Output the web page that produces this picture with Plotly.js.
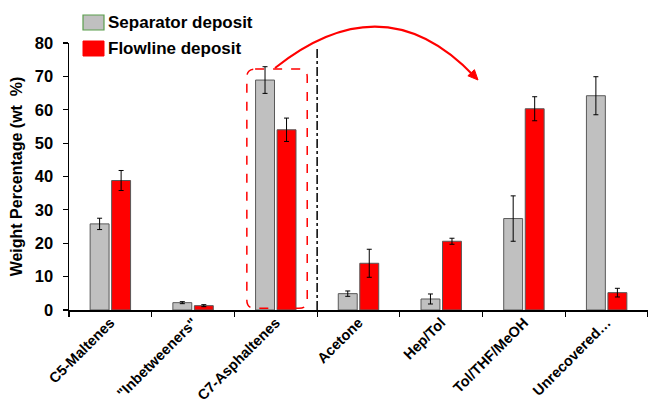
<!DOCTYPE html>
<html>
<head>
<meta charset="utf-8">
<script src="https://cdn.plot.ly/plotly-3.0.1.min.js"></script>
<style>html,body{margin:0;padding:0;background:#fff;}#chart{width:648px;height:402px;}</style>
</head>
<body>
<div id="chart"></div>
<script>
// ---- data ----
var categories = ['C5-Maltenes', '"Inbetweeners"', 'C7-Asphaltenes', 'Acetone', 'Hep/Tol', 'Tol/THF/MeOH', 'Unrecovered…'];
var seriesNames = ['Separator deposit', 'Flowline deposit'];
var separatorValues = [25.8, 2.2, 68.9, 4.9, 3.3, 27.4, 64.2];
var separatorErrors = [1.7, 0.3, 4.0, 0.8, 1.5, 6.8, 5.7];
var flowlineValues = [38.8, 1.3, 54.0, 14.0, 20.6, 60.3, 5.2];
var flowlineErrors = [3.0, 0.3, 3.5, 4.2, 0.9, 3.6, 1.3];
var yTickValues = [0, 10, 20, 30, 40, 50, 60, 70, 80];

// ---- styling / layout ----
var FONT = 'Liberation Sans, Arial, sans-serif';
var W = 648, H = 402, ML = 69, MR = 0, MT = 43, MB = 92;
var plotW = W - ML - MR, plotH = H - MT - MB;
// pixel -> paper helpers (for decorations outside the plot area)
function px(x) { return (x - ML) / plotW; }
function py(y) { return (H - MB - y) / plotH; }

var traces = [
  {
    type: 'bar', name: seriesNames[0], x: categories, y: separatorValues,
    marker: {color: '#C0C0C0', line: {color: '#595959', width: 1}},
    error_y: {type: 'data', array: separatorErrors, visible: true, color: '#000', thickness: 1, width: 2.5},
    showlegend: false, hoverinfo: 'skip'
  },
  {
    type: 'bar', name: seriesNames[1], x: categories, y: flowlineValues,
    marker: {color: '#FF0000', line: {color: '#595959', width: 1}},
    error_y: {type: 'data', array: flowlineErrors, visible: true, color: '#000', thickness: 1, width: 2.5},
    showlegend: false, hoverinfo: 'skip'
  }
];

// rounded dashed box around C7-Asphaltenes (data coordinates)
var bx0 = 1.65, bx1 = 2.38, by0 = 0.5, by1 = 72.2, rx = 0.1, ry = 2.4;
var boxPath = 'M' + (bx0 + rx) + ',' + by1 + ' L' + (bx1 - rx) + ',' + by1 +
  ' Q' + bx1 + ',' + by1 + ' ' + bx1 + ',' + (by1 - ry) +
  ' L' + bx1 + ',' + (by0 + ry) + ' Q' + bx1 + ',' + by0 + ' ' + (bx1 - rx) + ',' + by0 +
  ' L' + (bx0 + rx) + ',' + by0 + ' Q' + bx0 + ',' + by0 + ' ' + bx0 + ',' + (by0 + ry) +
  ' L' + bx0 + ',' + (by1 - ry) + ' Q' + bx0 + ',' + by1 + ' ' + (bx0 + rx) + ',' + by1 + ' Z';

// curved arrow (pixel positions converted to paper)
var a0 = [275, 68], ac = [384.5, -19], a1 = [475, 77];
var curvePath = 'M' + px(a0[0]) + ',' + py(a0[1]) + ' Q' + px(ac[0]) + ',' + py(ac[1]) + ' ' + px(a1[0]) + ',' + py(a1[1]);
var tip = [478, 80];
var dx = a1[0] - ac[0], dy = a1[1] - ac[1], dl = Math.sqrt(dx * dx + dy * dy);
dx /= dl; dy /= dl;
var hl = 10, hw = 4.5;
var bc = [tip[0] - hl * dx, tip[1] - hl * dy];
var c1 = [bc[0] - hw * dy, bc[1] + hw * dx], c2 = [bc[0] + hw * dy, bc[1] - hw * dx];
var headPath = 'M' + px(tip[0]) + ',' + py(tip[1]) + ' L' + px(c1[0]) + ',' + py(c1[1]) + ' L' + px(c2[0]) + ',' + py(c2[1]) + ' Z';

var shapes = [
  {type: 'line', xref: 'x', yref: 'y', x0: 2.5, x1: 2.5, y0: 0, y1: 78.9, line: {color: '#000', width: 1.5, dash: 'dashdot'}},
  {type: 'path', xref: 'x', yref: 'y', path: boxPath, line: {color: '#FF0000', width: 1.5, dash: 'dash'}},
  {type: 'path', xref: 'paper', yref: 'paper', path: curvePath, line: {color: '#FF0000', width: 2}},
  {type: 'path', xref: 'paper', yref: 'paper', path: headPath, fillcolor: '#FF0000', line: {color: '#FF0000', width: 1}},
  // custom legend swatches
  {type: 'rect', xref: 'paper', yref: 'paper', x0: px(83), x1: px(104), y0: py(30), y1: py(15), fillcolor: '#C0C0C0', line: {color: '#5B9E4D', width: 1.2}},
  {type: 'rect', xref: 'paper', yref: 'paper', x0: px(83), x1: px(104), y0: py(56), y1: py(41), fillcolor: '#FF0000', line: {color: '#FF0000', width: 1}}
];

var annotations = [
  {xref: 'paper', yref: 'paper', x: px(106), y: py(22.5), xanchor: 'left', yanchor: 'middle', showarrow: false,
   text: seriesNames[0], font: {family: FONT, size: 17, color: '#000', weight: 'bold'}},
  {xref: 'paper', yref: 'paper', x: px(106), y: py(48.5), xanchor: 'left', yanchor: 'middle', showarrow: false,
   text: seriesNames[1], font: {family: FONT, size: 17, color: '#000', weight: 'bold'}}
];

var layout = {
  width: W, height: H,
  margin: {l: ML, r: MR, t: MT, b: MB, pad: 0},
  paper_bgcolor: '#fff', plot_bgcolor: '#fff',
  barmode: 'group', bargap: 0.48, bargroupgap: 0.12,
  font: {family: FONT, color: '#000'},
  xaxis: {
    type: 'category', range: [-0.5, 6.5], tickson: 'boundaries',
    ticks: 'outside', ticklen: 5, tickwidth: 1.2, tickcolor: '#000',
    showline: true, linecolor: '#000', linewidth: 1.5,
    showgrid: false, zeroline: false, tickangle: -45, automargin: false,
    ticklabelstandoff: -3,
    tickfont: {family: FONT, size: 14.5, color: '#000', weight: 'bold'}
  },
  yaxis: {
    range: [0, 80], tickvals: yTickValues, ticks: 'outside', ticklen: 5, tickwidth: 1.2, tickcolor: '#000',
    showline: true, linecolor: '#000', linewidth: 1.5, showgrid: false, zeroline: false, automargin: false,
    ticklabelstandoff: 6,
    tickfont: {family: FONT, size: 16.5, color: '#000', weight: 'bold'},
    title: {text: 'Weight Percentage (wt \u00A0%)', font: {family: FONT, size: 16, color: '#000', weight: 'bold'}, standoff: 8}
  },
  shapes: shapes,
  annotations: annotations,
  showlegend: false
};

Plotly.newPlot('chart', traces, layout, {staticPlot: true, displayModeBar: false});
</script>
</body>
</html>
